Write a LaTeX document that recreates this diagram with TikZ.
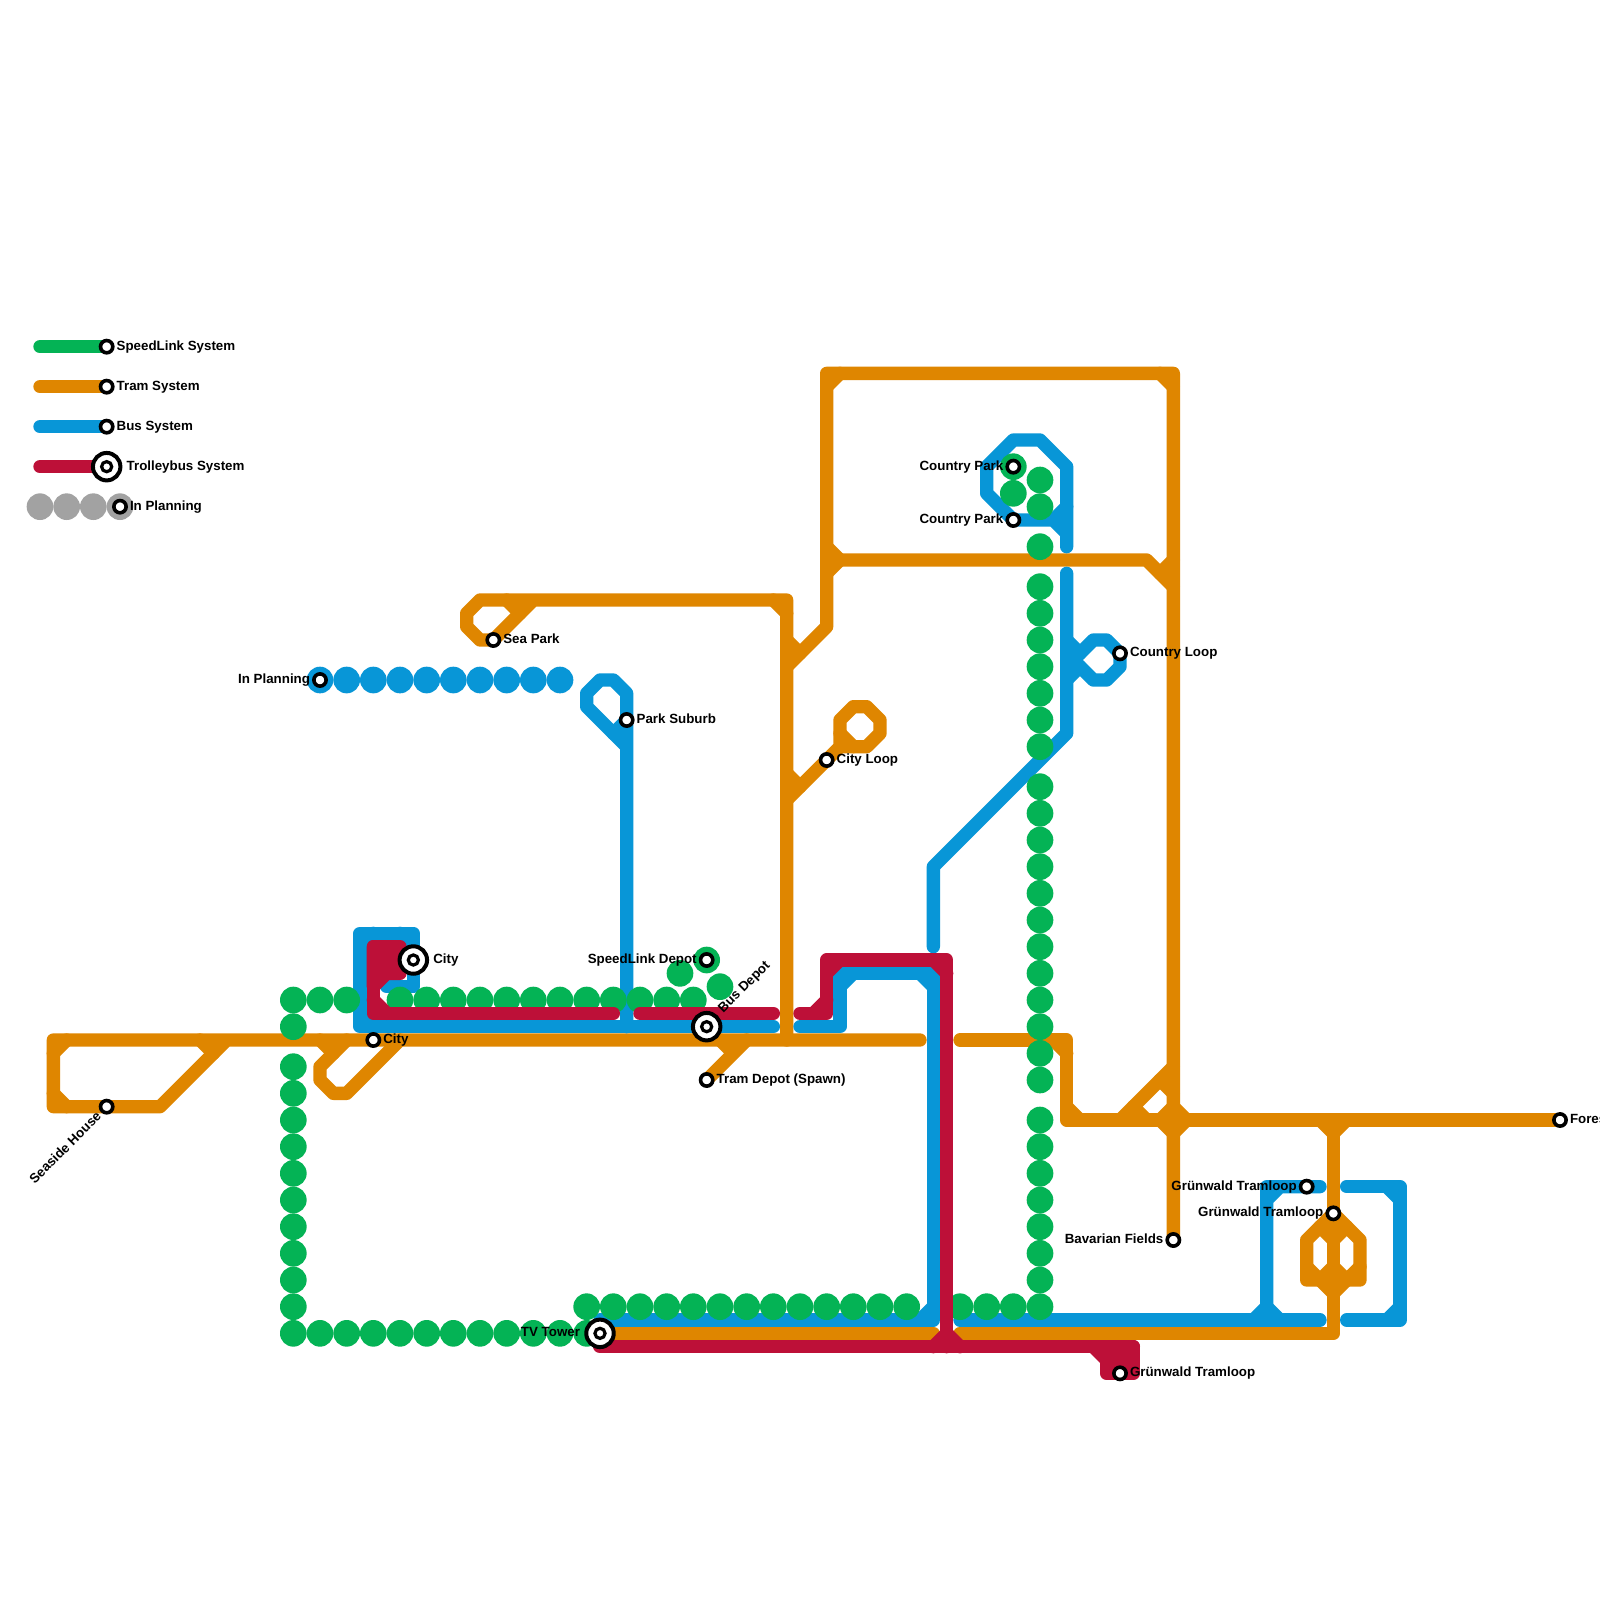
\documentclass[tikz,border=0pt]{standalone}
\usepackage{fontspec}
\setmainfont{Liberation Sans}
\definecolor{cgreen}{HTML}{04B355}
\definecolor{corange}{HTML}{DF8600}
\definecolor{cblue}{HTML}{0896D7}
\definecolor{cred}{HTML}{BD1038}
\definecolor{cgray}{HTML}{A2A2A2}
\tikzset{
  route/.style={line width=10pt,line cap=round,line join=round},
  tram/.style={route,draw=corange},
  bus/.style={route,draw=cblue},
  trolley/.style={route,draw=cred},
  speed/.style={route,draw=cgreen},
  halt/.style={circle,draw=black,fill=white,line width=2.7pt,minimum size=9.2pt,inner sep=0pt,outer sep=0pt},
  hubring/.style={circle,draw=black,fill=white,line width=3pt,minimum size=20.6pt,inner sep=0pt,outer sep=0pt},
  hubcore/.style={circle,draw=black,fill=white,line width=2.4pt,minimum size=7.6pt,inner sep=0pt,outer sep=0pt},
  lab/.style={font=\fontsize{10}{12}\selectfont\bfseries,text=black,inner sep=0pt,outer sep=0pt},
  labr/.style={lab,anchor=base west},
  labl/.style={lab,anchor=base east},
}
\begin{document}
\begin{tikzpicture}[x=10pt,y=-10pt]
\path[use as bounding box,fill=white] (0,0) rectangle (120,120);

% station positions
\coordinate (sLegA) at (8,26);
\coordinate (sLegB) at (8,29);
\coordinate (sLegC) at (8,32);
\coordinate (sLegD) at (8,35);
\coordinate (sLegE) at (9,38);
\coordinate (sSeaside) at (8,83);
\coordinate (sCityA) at (28,78);
\coordinate (sCityB) at (31,72);
\coordinate (sPlan) at (24,51);
\coordinate (sSeaPark) at (37,48);
\coordinate (sPark) at (47,54);
\coordinate (sTV) at (45,100);
\coordinate (sSpeedDepot) at (53,72);
\coordinate (sBusDepot) at (53,77);
\coordinate (sTramDepot) at (53,81);
\coordinate (sCityLoop) at (62,57);
\coordinate (sCountryA) at (76,35);
\coordinate (sCountryB) at (76,39);
\coordinate (sCountryLoop) at (84,49);
\coordinate (sBavarian) at (88,93);
\coordinate (sGrunA) at (98,89);
\coordinate (sGrunB) at (100,91);
\coordinate (sGrunC) at (84,103);
\coordinate (sForest) at (117,84);

% legend lines
\draw[speed] (3,26) -- (sLegA);
\draw[tram] (3,29) -- (sLegB);
\draw[bus] (3,32) -- (sLegC);
\draw[trolley] (3,35) -- (sLegD);
\foreach \x in {3,5,7,9} \fill[cgray] (\x,38) circle (10pt);

% tram
\draw[tram] (69,78) -- (4,78) -- (4,83) -- (12,83) -- (17,78);
\draw[tram] (4,79) -- (5,78) (4,82) -- (5,83) (15,78) -- (16,79);
\draw[tram] (26,78) -- (24,80) -- (24,81) -- (25,82) -- (26,82) -- (30,78);
\draw[tram] (24,78) -- (25,79);
\draw[tram] (sTramDepot) -- (56,78) (54,78) -- (55,79);
\draw[tram] (59,78) -- (59,45) -- (36,45) -- (35,46) -- (35,47) -- (36,48) -- (sSeaPark) -- (40,45);
\draw[tram] (58,45) -- (59,46) (38,45) -- (39,46);
\draw[tram] (59,50) -- (62,47) -- (62,28) -- (88,28) -- (sBavarian);
\draw[tram] (59,48) -- (60,49) (62,29) -- (63,28) (87,28) -- (88,29);
\draw[tram] (59,60) -- (63,56) -- (63,54) -- (64,53) -- (65,53) -- (66,54) -- (66,55) -- (65,56) -- (63,56);
\draw[tram] (59,58) -- (60,59) (63,55) -- (64,56);
\draw[tram] (62,42) -- (86,42) -- (88,44);
\draw[tram] (62,41) -- (63,42) -- (62,43) (87,43) -- (88,42);
\draw[tram] (72,78) -- (80,78) -- (80,84) -- (sForest);
\draw[tram] (79,78) -- (80,79) (80,83) -- (81,84);
\draw[tram] (84,84) -- (88,80);
\draw[tram] (87,81) -- (88,82) (88,83) -- (87,84) (85,83) -- (86,84);
\draw[tram] (88,83) -- (89,84) (89,84) -- (88,85) (87,84) -- (88,85);
\draw[tram] (99,84) -- (100,85) -- (101,84);
\draw[tram] (100,84) -- (100,100) -- (72,100);
\draw[tram] (70,100) -- (sTV);
\draw[tram] (sGrunB) -- (98,93) -- (98,96) -- (102,96) -- (102,93) -- (sGrunB);
\draw[tram] (99,92) -- (100,93) -- (101,92);
\draw[tram] (98,95) -- (99,96) -- (100,95) -- (101,96) -- (102,95);
\draw[tram] (99,96) -- (100,97) -- (101,96);

% bus
\draw[bus] (58,77) -- (27,77) -- (27,70) -- (31,70) -- (31,74) -- (29,74);
\draw[bus] (27,71) -- (28,70) (30,70) -- (31,71) (27,76) -- (28,77);
\draw[bus] (47,77) -- (47,52) -- (46,51) -- (45,51) -- (44,52) -- (44,53) -- (47,56);
\draw[bus] (46,55) -- (47,54);
\draw[bus] (60,77) -- (63,77) -- (63,73) -- (70,73) -- (70,99) -- (45,99);
\draw[bus] (63,74) -- (64,73) (69,73) -- (70,74) (69,99) -- (70,98);
\draw[bus] (72,99) -- (99,99);
\draw[bus] (94,99) -- (95,98) -- (96,99);
\draw[bus] (95,99) -- (95,89) -- (99,89) (95,90) -- (96,89);
\draw[bus] (101,89) -- (105,89) -- (105,99) -- (101,99);
\draw[bus] (104,89) -- (105,90) (104,99) -- (105,98);
\draw[bus] (70,71) -- (70,65) -- (80,55) -- (80,43);
\draw[bus] (80,41) -- (80,35) -- (78,33) -- (76,33) -- (74,35) -- (74,37) -- (sCountryB) -- (79,39) -- (80,40);
\draw[bus] (79,39) -- (80,38);
\draw[bus] (80,50) -- (82,48) -- (83,48) -- (sCountryLoop) -- (84,50) -- (83,51) -- (82,51) -- (80,49);
\draw[bus] (80,48) -- (81,49) (80,51) -- (81,50);
\foreach \x in {24,26,...,42} \fill[cblue] (\x,51) circle (10pt);

% speedlink dots
\foreach \x in {22,24,26} \fill[cgreen] (\x,75) circle (10pt);
\fill[cgreen] (22,77) circle (10pt);
\foreach \y in {80,82,...,100} \fill[cgreen] (22,\y) circle (10pt);
\foreach \x in {24,26,...,44} \fill[cgreen] (\x,100) circle (10pt);
\foreach \x in {44,46,...,68} \fill[cgreen] (\x,98) circle (10pt);
\foreach \x in {72,74,76,78} \fill[cgreen] (\x,98) circle (10pt);
\foreach \y in {84,86,...,96} \fill[cgreen] (78,\y) circle (10pt);
\foreach \y in {59,61,...,81} \fill[cgreen] (78,\y) circle (10pt);
\foreach \y in {44,46,...,56} \fill[cgreen] (78,\y) circle (10pt);
\foreach \y in {41,38,36} \fill[cgreen] (78,\y) circle (10pt);
\fill[cgreen] (76,37) circle (10pt);
\fill[cgreen] (sCountryA) circle (10pt);
\foreach \x in {30,32,...,52} \fill[cgreen] (\x,75) circle (10pt);
\fill[cgreen] (51,73) circle (10pt);
\fill[cgreen] (sSpeedDepot) circle (10pt);
\fill[cgreen] (54,74) circle (10pt);

% trolleybus
\draw[trolley,fill=cred] (28,71) -- (30,71) -- (30,73) -- (29,73) -- (28,74) -- cycle;
\draw[trolley] (28,71) -- (28,76) -- (46,76);
\draw[trolley] (28,75) -- (29,76);
\draw[trolley] (48,76) -- (58,76);
\draw[trolley] (60,76) -- (62,76) -- (62,72) -- (71,72) -- (71,101);
\draw[trolley] (61,76) -- (62,75) (62,73) -- (63,72) (70,72) -- (71,73);
\draw[trolley] (sTV) -- (45,101) -- (85,101);
\draw[trolley] (70,101) -- (71,100) -- (72,101);
\draw[trolley,fill=cred] (83,101) rectangle (85,103);
\draw[trolley] (82,101) -- (83,102);

% labels
\node[labr] (tLegA) at (8.75,26.25) {SpeedLink System};
\node[labr] (tLegB) at (8.75,29.25) {Tram System};
\node[labr] (tLegC) at (8.75,32.25) {Bus System};
\node[labr] (tLegD) at (9.5,35.25) {Trolleybus System};
\node[labr] (tLegE) at (9.75,38.25) {In Planning};
\node[labl,rotate=45] (tSeaside) at (7.65,83.8) {Seaside House};
\node[labr] (tCityA) at (28.75,78.25) {City};
\node[labr] (tCityB) at (32.5,72.25) {City};
\node[labl] (tPlan) at (23.25,51.25) {In Planning};
\node[labr] (tSeaPark) at (37.75,48.25) {Sea Park};
\node[labr] (tPark) at (47.75,54.25) {Park Suburb};
\node[labl] (tTV) at (43.5,100.25) {TV Tower};
\node[labl] (tSpeedDepot) at (52.25,72.25) {SpeedLink Depot};
\node[labr,rotate=45] (tBusDepot) at (54.25,76) {Bus Depot};
\node[labr] (tTramDepot) at (53.75,81.25) {Tram Depot (Spawn)};
\node[labr] (tCityLoop) at (62.75,57.25) {City Loop};
\node[labl] (tCountryA) at (75.25,35.25) {Country Park};
\node[labl] (tCountryB) at (75.25,39.25) {Country Park};
\node[labr] (tCountryLoop) at (84.75,49.25) {Country Loop};
\node[labl] (tBavarian) at (87.25,93.25) {Bavarian Fields};
\node[labl] (tGrunA) at (97.25,89.25) {Grünwald Tramloop};
\node[labl] (tGrunB) at (99.25,91.25) {Grünwald Tramloop};
\node[labr] (tGrunC) at (84.75,103.25) {Grünwald Tramloop};
\node[labr] (tForest) at (117.75,84.25) {Forest};

% stations
\foreach \s in {sLegA,sLegB,sLegC,sLegE,sSeaside,sCityA,sPlan,sSeaPark,sPark,sSpeedDepot,sTramDepot,sCityLoop,sCountryA,sCountryB,sCountryLoop,sBavarian,sGrunA,sGrunB,sGrunC,sForest}
  \node[halt] (n\s) at (\s) {};
\foreach \s in {sLegD,sCityB,sTV,sBusDepot}{
  \node[hubring] (r\s) at (\s) {};
  \node[hubcore] (c\s) at (\s) {};
}
\end{tikzpicture}
\end{document}
